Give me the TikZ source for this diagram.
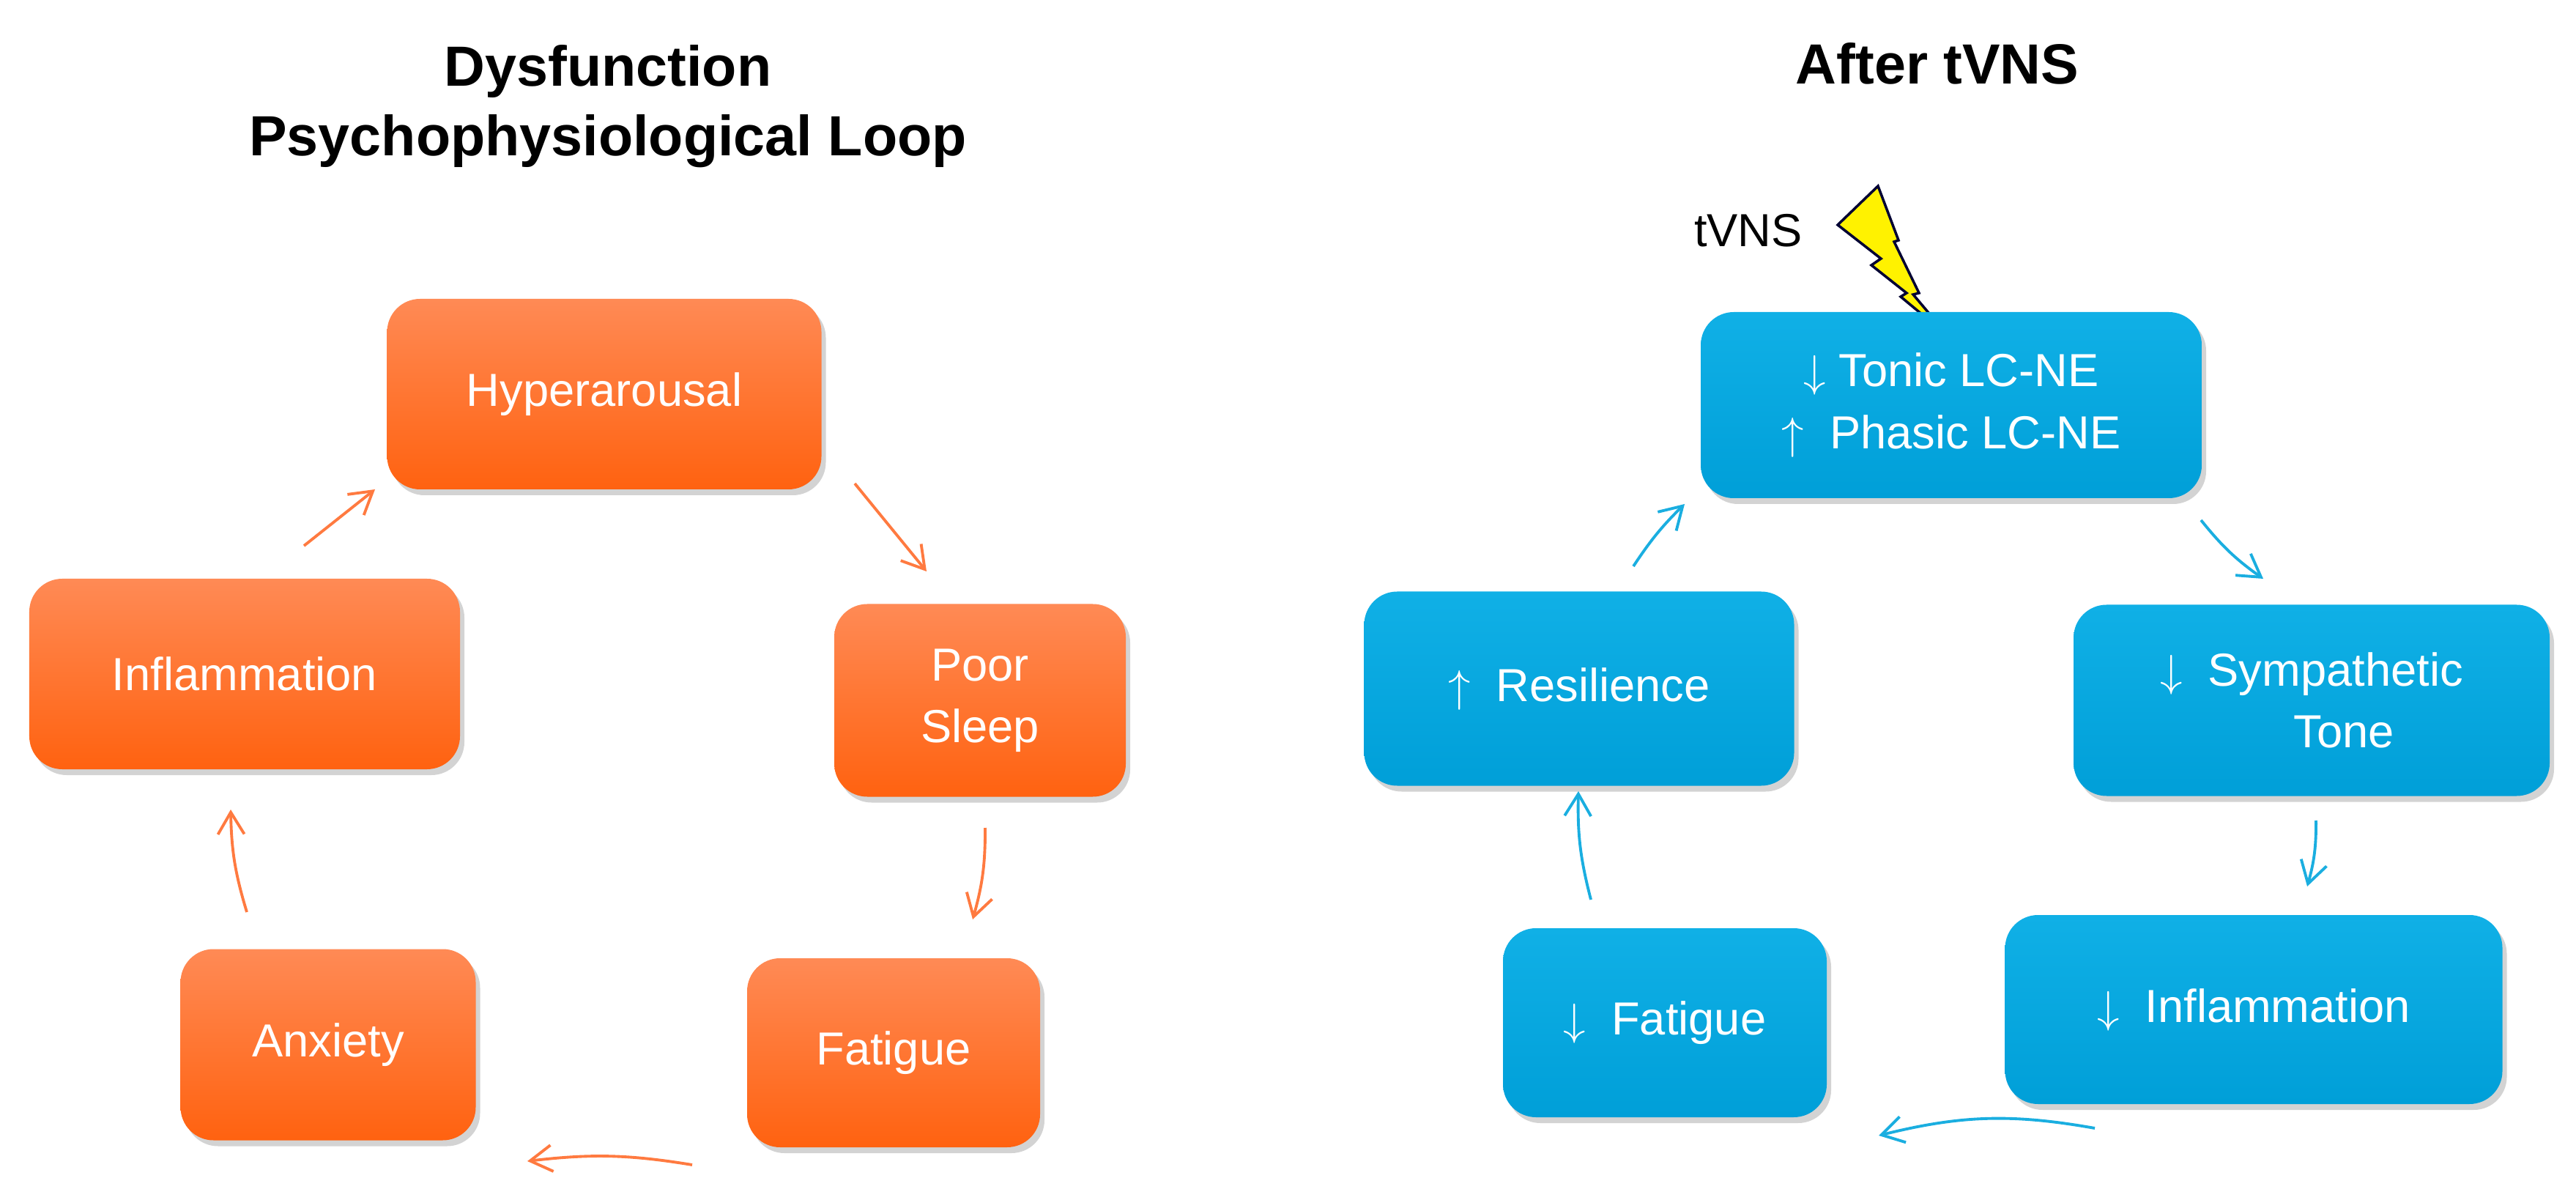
\documentclass[tikz,border=0pt]{standalone}
\usepackage{fontspec}
\setmainfont{Liberation Sans}
\usetikzlibrary{shadows,arrows.meta,positioning}
\definecolor{orT}{HTML}{FF8A55}
\definecolor{orB}{HTML}{FF6210}
\definecolor{blT}{HTML}{10B0E6}
\definecolor{blB}{HTML}{009FD8}
\definecolor{orA}{HTML}{FF7A40}
\definecolor{blA}{HTML}{1AAEE0}
\tikzset{
 box/.style={rounded corners=0.45cm, draw=none, drop shadow={shadow xshift=0.06cm,shadow yshift=-0.08cm,opacity=0.35},
   text=white, font=\fontsize{18}{24}\selectfont, align=center, inner sep=0pt},
 obox/.style={box, top color=orT, bottom color=orB},
 bbox/.style={box, top color=blT, bottom color=blB},
 oarr/.style={draw=orA, line width=1.1pt, -{Straight Barb[length=0.3cm,width=0.36cm]}},
 barr/.style={draw=blA, line width=1.1pt, -{Straight Barb[length=0.3cm,width=0.36cm]}},
 ttl/.style={font=\bfseries\fontsize{22}{27}\selectfont, align=center}
}
\newcommand{\mybox}[6]{\node[#1, minimum width=#4cm, minimum height=#5cm] (#2) at (#3) {#6};}
\begin{document}
\begin{tikzpicture}
\useasboundingbox (0,0) rectangle (35.17,-16.38);
\node[ttl] (t1) at (8.3,-1.45) {Dysfunction\\Psychophysiological Loop};
\node[ttl] (t2) at (26.45,-0.87) {After tVNS};
% left
\mybox{obox}{h}{8.25,-5.38}{5.93}{2.6}{Hyperarousal}
\mybox{obox}{ps}{13.38,-9.56}{3.98}{2.63}{Poor\\Sleep}
\mybox{obox}{fa}{12.2,-14.37}{4.0}{2.58}{Fatigue}
\mybox{obox}{an}{4.48,-14.26}{4.03}{2.61}{Anxiety}
\mybox{obox}{in}{3.34,-9.2}{5.88}{2.6}{Inflammation}
\coordinate (a1s) at (11.67,-6.6); \coordinate (a1e) at (12.65,-7.8);
\draw[oarr] (a1s) -- (a1e);
\coordinate (a2s) at (13.45,-11.3); \coordinate (a2e) at (13.28,-12.55);
\draw[oarr] (a2s) to[bend left=8] (a2e);
\coordinate (a3s) at (9.45,-15.9); \coordinate (a3e) at (7.2,-15.85);
\draw[oarr] (a3s) to[bend right=8] (a3e);
\coordinate (a4s) at (3.37,-12.45); \coordinate (a4e) at (3.15,-11.05);
\draw[oarr] (a4s) to[bend left=8] (a4e);
\coordinate (a5s) at (4.15,-7.45); \coordinate (a5e) at (5.12,-6.68);
\draw[oarr] (a5s) -- (a5e);
% right
\node[font=\fontsize{18}{22}\selectfont] (tv) at (23.87,-3.15) {tVNS};
\coordinate (bolt) at (26.6,-4.59);
\filldraw[fill=yellow, draw=black!80!blue, line width=1pt, line join=miter]
 (25.09,-3.07) -- (25.64,-2.54) -- (25.92,-3.28) -- (25.86,-3.3) -- (26.2,-4.0) -- (26.12,-4.02) -- (bolt)
 -- (25.95,-4.05) -- (26.03,-4.0) -- (25.55,-3.62) -- (25.68,-3.53) -- cycle;
\mybox{bbox}{tc}{26.64,-5.53}{6.84}{2.54}{$\downarrow$ Tonic LC-NE\\$\uparrow$\ \ Phasic LC-NE}
\mybox{bbox}{sy}{31.56,-9.56}{6.5}{2.61}{$\downarrow$\ \ Sympathetic\\\ \ \ \ \ Tone}
\mybox{bbox}{bi}{30.77,-13.78}{6.79}{2.58}{$\downarrow$\ \ Inflammation}
\mybox{bbox}{bf}{22.73,-13.96}{4.42}{2.58}{$\downarrow$\ \ Fatigue}
\mybox{bbox}{re}{21.56,-9.4}{5.87}{2.65}{$\uparrow$\ \ Resilience}
\coordinate (b1s) at (30.05,-7.1); \coordinate (b1e) at (30.9,-7.9);
\draw[barr] (b1s) to[bend right=8] (b1e);
\coordinate (b2s) at (31.62,-11.2); \coordinate (b2e) at (31.5,-12.1);
\draw[barr] (b2s) to[bend left=8] (b2e);
\coordinate (b3s) at (28.6,-15.4); \coordinate (b3e) at (25.65,-15.5);
\draw[barr] (b3s) to[bend right=12] (b3e);
\coordinate (b4s) at (21.72,-12.28); \coordinate (b4e) at (21.55,-10.8);
\draw[barr] (b4s) to[bend left=8] (b4e);
\coordinate (b5s) at (22.3,-7.73); \coordinate (b5e) at (23.0,-6.88);
\draw[barr] (b5s) to[bend left=6] (b5e);
\end{tikzpicture}
\end{document}
